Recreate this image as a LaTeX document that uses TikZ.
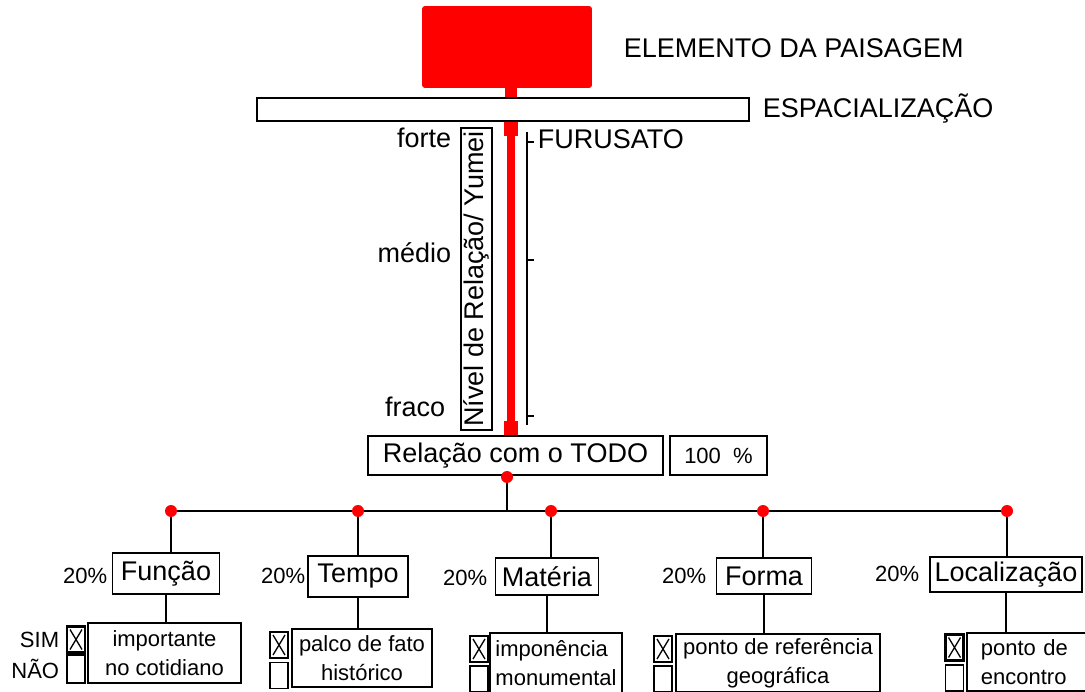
\documentclass[tikz,border=0pt]{standalone}
\usepackage{fontspec}
\setmainfont{Liberation Sans}
\usetikzlibrary{calc}

\begin{document}
\begin{tikzpicture}[x=1pt,y=-1pt,line width=1.8pt,
    bigtxt/.style={font=\fontsize{27}{31}\selectfont},
    smalltxt/.style={font=\fontsize{22}{29}\selectfont},
    box/.style={draw, inner sep=0pt},
    catbox/.style={box, bigtxt},
    descbox/.style={box, smalltxt, align=center},
    chk/.style={draw, minimum width=18pt, minimum height=26pt, inner sep=0pt},
    chkx/.style={chk, line width=2.2pt, path picture={
        \draw[line width=1.3pt] ([shift={(3pt,-3pt)}]path picture bounding box.north west) -- ([shift={(-3pt,3pt)}]path picture bounding box.south east)
            ([shift={(-3pt,-3pt)}]path picture bounding box.north east) -- ([shift={(3pt,3pt)}]path picture bounding box.south west);}},
    reddot/.style={circle, fill=red, minimum size=12pt, inner sep=0pt},
    redbar/.style={red, line width=#1, line cap=butt},
    lbl/.style={inner sep=0pt}]
    \clip (0,0) rectangle (1085,692);

    % Element and spatialisation bar
    \node[fill=red, draw=red, rounded corners=2pt, minimum width=168pt, minimum height=80pt] (elem) at (507,47) {};
    \node[bigtxt, lbl, anchor=base west] (elemlbl) at (623,58) {ELEMENTO DA PAISAGEM};
    \node[box, minimum width=492pt, minimum height=23pt] (espac) at (503,109.5) {};
    \node[bigtxt, lbl, anchor=base west] (espaclbl) at (762,118) {ESPACIALIZAÇÃO};

    % Relation with the whole
    \node[box, bigtxt, minimum width=295pt, minimum height=39pt] (todo) at (515.5,455.5) {Relação com o TODO};
    \node[box, smalltxt, minimum width=97pt, minimum height=39pt] (pct) at (718.5,455.5) {100~~\%};

    % Red axis
    \coordinate (axis) at (511,0);
    \draw[redbar=12pt] (elem.south -| axis) -- (espac.north -| axis);
    \draw[redbar=8pt] (espac.south -| axis) -- (todo.north -| axis);
    \draw[redbar=14pt] (espac.south -| axis) -- ++(0,14);
    \draw[redbar=14pt] (todo.north -| axis) -- ++(0,-14);

    % Level scale
    \node[box, bigtxt, rotate=90, minimum width=302pt, minimum height=31pt] (yumei) at (476.5,279) {Nível de Relação/ Yumei};
    \draw (527,132) -- (527,425);
    \foreach \y in {142,260,416} {
        \draw (527,\y) -- (534,\y);
    }
    \node[bigtxt, lbl, anchor=base east] (forte) at (452,148) {forte};
    \node[bigtxt, lbl, anchor=base east] (medio) at (452,263) {médio};
    \node[bigtxt, lbl, anchor=base east] (fraco) at (446,417) {fraco};
    \node[bigtxt, lbl, anchor=base west] (furu) at (537,149) {FURUSATO};

    % Categories
    \node[catbox, minimum width=107pt, minimum height=41pt] (fun) at (166,573.5) {Função};
    \node[catbox, minimum width=100pt, minimum height=41pt] (tem) at (358,576.5) {Tempo};
    \node[catbox, minimum width=103pt, minimum height=37pt] (mat) at (547,576.5) {Matéria};
    \node[catbox, minimum width=95pt, minimum height=36pt] (frm) at (764,576) {Forma};
    \node[catbox, minimum width=152pt, minimum height=35pt] (loc) at (1006,574.5) {Localização};

    \node[smalltxt, lbl, anchor=base east] (funp) at (108,583) {20\%};
    \node[smalltxt, lbl, anchor=base east] (temp) at (306,583) {20\%};
    \node[smalltxt, lbl, anchor=base east] (matp) at (488,585) {20\%};
    \node[smalltxt, lbl, anchor=base east] (frmp) at (707,583) {20\%};
    \node[smalltxt, lbl, anchor=base east] (locp) at (920,581) {20\%};

    % Descriptions
    \node[descbox, minimum width=153pt, minimum height=60pt] (fund) at (164.5,653) {importante\\no cotidiano};
    \node[descbox, minimum width=140pt, minimum height=58pt] (temd) at (362,658) {palco de fato\\histórico};
    \node[descbox, align=left, minimum width=132pt, minimum height=60pt] (matd) at (556,663) {imponência\\monumental};
    \node[descbox, minimum width=204pt, minimum height=58pt] (frmd) at (778,663) {ponto de referência\\geográfica};
    \node[descbox, align=left, anchor=west, text width=110pt, inner xsep=14pt, minimum height=58pt] (locd) at (966,662) {ponto de\\encontro};

    % Check boxes
    \node[chkx] (funs) at (76,639.5) {};
    \node[chk, minimum height=28pt] (funn) at (76,669) {};
    \node[chkx] (tems) at (279,645) {};
    \node[chk] (temn) at (279,675.5) {};
    \node[chkx] (mats) at (479,649) {};
    \node[chk] (matn) at (479,679) {};
    \node[chkx] (frms) at (663,649) {};
    \node[chk] (frmn) at (663,679) {};
    \node[chkx] (locs) at (954.5,647.5) {};
    \node[chk] (locn) at (954.5,678) {};
    \node[smalltxt, lbl, anchor=base east] (sim) at (60,647) {SIM};
    \node[smalltxt, lbl, anchor=base east] (nao) at (60,678) {NÃO};

    % Tree
    \coordinate (t0) at (507,477);
    \coordinate (c1) at (171,511);
    \coordinate (c2) at (358,511);
    \coordinate (c3) at (551,511);
    \coordinate (c4) at (763,511);
    \coordinate (c5) at (1007,511);
    \draw (t0) -- (t0 |- c1);
    \draw (c1) -- (c5);
    \draw (c1) -- (c1 |- fun.north);
    \draw (c2) -- (c2 |- tem.north);
    \draw (c3) -- (c3 |- mat.north);
    \draw (c4) -- (c4 |- frm.north);
    \draw (c5) -- (c5 |- loc.north);
    \draw (fun.south) -- (fun.south |- fund.north);
    \draw (tem.south) -- (tem.south |- temd.north);
    \draw (mat.south) -- (mat.south |- matd.north);
    \draw (frm.south) -- (frm.south |- frmd.north);
    \draw (loc.south) -- (loc.south |- locd.north);
    \foreach \c in {t0,c1,c2,c3,c4,c5} {
        \node[reddot] at (\c) {};
    }
\end{tikzpicture}
\end{document}
